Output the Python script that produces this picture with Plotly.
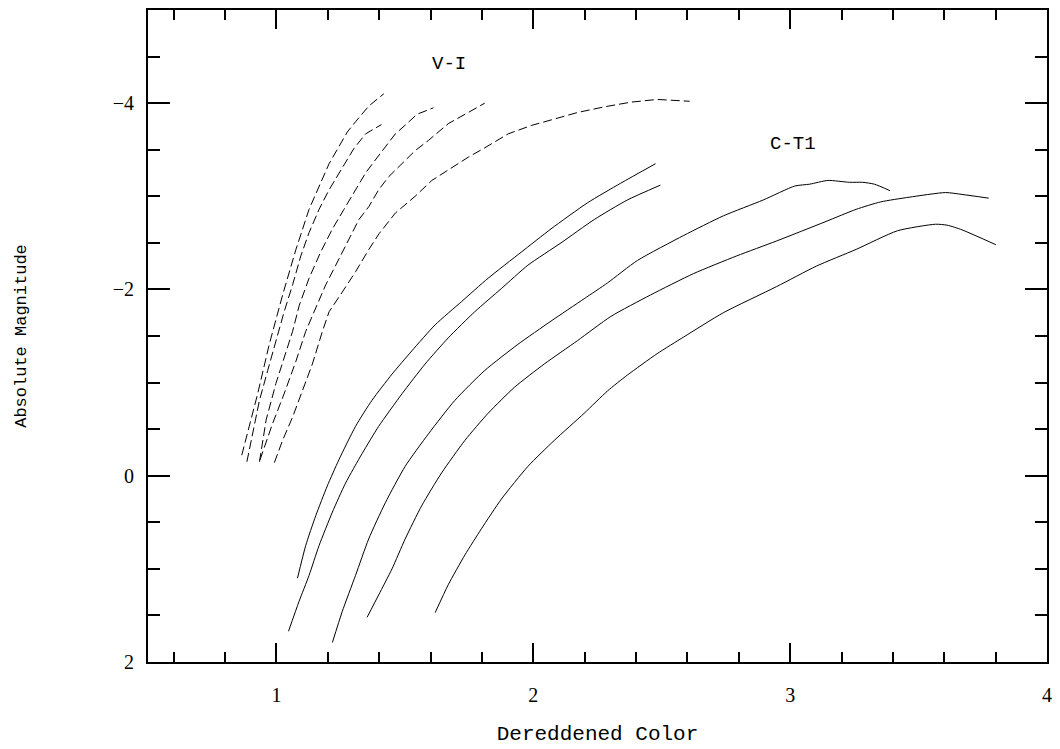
import plotly.graph_objects as go

# ---- V-I isochrones (dashed) ----
vi1_x = [0.865, 0.927, 0.972, 1.024, 1.076, 1.127, 1.205, 1.276, 1.308, 1.360, 1.418]
vi1_y = [-0.22, -0.88, -1.41, -1.94, -2.43, -2.86, -3.35, -3.69, -3.80, -3.97, -4.10]

vi2_x = [0.885, 0.934, 0.966, 0.998, 1.030, 1.063, 1.095, 1.127, 1.166, 1.205, 1.243, 1.301, 1.347, 1.372, 1.409]
vi2_y = [-0.15, -0.81, -1.13, -1.44, -1.76, -2.05, -2.36, -2.61, -2.86, -3.07, -3.25, -3.51, -3.67, -3.71, -3.77]

vi3_x = [0.934, 0.960, 0.998, 1.030, 1.063, 1.089, 1.127, 1.172, 1.218, 1.263, 1.308, 1.347, 1.385, 1.424, 1.463, 1.508, 1.547, 1.611]
vi3_y = [-0.15, -0.60, -0.99, -1.27, -1.55, -1.83, -2.12, -2.40, -2.65, -2.86, -3.07, -3.25, -3.39, -3.53, -3.67, -3.78, -3.88, -3.95]

vi4_x = [0.936, 0.985, 1.030, 1.076, 1.114, 1.153, 1.192, 1.231, 1.269, 1.321, 1.360, 1.398, 1.437, 1.489, 1.540, 1.592, 1.669, 1.747, 1.811]
vi4_y = [-0.17, -0.56, -0.88, -1.23, -1.55, -1.80, -2.05, -2.26, -2.47, -2.75, -2.89, -3.07, -3.21, -3.35, -3.49, -3.60, -3.78, -3.90, -4.00]

vi5_x = [0.992, 1.024, 1.063, 1.101, 1.140, 1.179, 1.205, 1.256, 1.308, 1.360, 1.400, 1.463, 1.540, 1.605, 1.682,
         1.747, 1.811, 1.902, 1.992, 2.069, 2.173, 2.276, 2.379, 2.482, 2.534, 2.609]
vi5_y = [-0.14, -0.38, -0.63, -0.91, -1.20, -1.55, -1.76, -1.97, -2.19, -2.43, -2.60, -2.82, -3.00, -3.17, -3.31,
         -3.42, -3.52, -3.67, -3.76, -3.82, -3.90, -3.96, -4.01, -4.04, -4.035, -4.02]

# ---- C-T1 isochrones (solid) ----
ct1_x = [1.082, 1.114, 1.153, 1.198, 1.243, 1.308, 1.372, 1.450, 1.527, 1.618, 1.721, 1.824, 1.953, 2.069, 2.211, 2.340, 2.476]
ct1_y = [1.10, 0.75, 0.43, 0.11, -0.17, -0.53, -0.81, -1.09, -1.34, -1.62, -1.87, -2.12, -2.40, -2.65, -2.93, -3.14, -3.35]

ct2_x = [1.047, 1.088, 1.127, 1.166, 1.218, 1.269, 1.334, 1.398, 1.489, 1.579, 1.669, 1.772, 1.876, 1.979, 2.108, 2.237, 2.366, 2.495]
ct2_y = [1.67, 1.35, 1.07, 0.75, 0.39, 0.08, -0.24, -0.53, -0.88, -1.20, -1.48, -1.76, -2.01, -2.26, -2.50, -2.75, -2.96, -3.12]

ct3_x = [1.218, 1.256, 1.308, 1.359, 1.424, 1.501, 1.592, 1.695, 1.811, 1.940, 2.069, 2.198, 2.289, 2.405, 2.586, 2.740,
         2.895, 3.018, 3.076, 3.147, 3.231, 3.282, 3.328, 3.389]
ct3_y = [1.79, 1.46, 1.07, 0.68, 0.29, -0.10, -0.45, -0.81, -1.13, -1.41, -1.66, -1.90, -2.07, -2.31, -2.58, -2.79,
         -2.96, -3.11, -3.13, -3.17, -3.15, -3.15, -3.13, -3.06]

ct4_x = [1.353, 1.398, 1.450, 1.501, 1.566, 1.643, 1.734, 1.824, 1.927, 2.043, 2.172, 2.302, 2.456, 2.624, 2.792, 2.947,
         3.140, 3.257, 3.353, 3.463, 3.605, 3.669, 3.773]
ct4_y = [1.52, 1.28, 1.00, 0.68, 0.32, -0.03, -0.38, -0.67, -0.95, -1.20, -1.45, -1.71, -1.94, -2.17, -2.36, -2.52,
         -2.73, -2.86, -2.94, -2.99, -3.04, -3.02, -2.98]

ct5_x = [1.618, 1.669, 1.734, 1.798, 1.876, 1.979, 2.082, 2.198, 2.289, 2.366, 2.482, 2.586, 2.740, 2.947, 3.102, 3.257,
         3.418, 3.566, 3.611, 3.669, 3.801]
ct5_y = [1.47, 1.17, 0.85, 0.57, 0.25, -0.10, -0.38, -0.67, -0.91, -1.08, -1.31, -1.49, -1.75, -2.03, -2.25, -2.43,
         -2.63, -2.70, -2.69, -2.64, -2.48]

labels = ["V-I", "C-T1"]
label_x = [1.67, 3.01]
label_y = [-4.42, -3.56]

fig = go.Figure()

for xs, ys in [(vi1_x, vi1_y), (vi2_x, vi2_y), (vi3_x, vi3_y), (vi4_x, vi4_y), (vi5_x, vi5_y)]:
    fig.add_trace(go.Scatter(x=xs, y=ys, mode="lines",
                             line=dict(color="black", width=1, dash="9px,4px"),
                             hoverinfo="skip", showlegend=False))

for xs, ys in [(ct1_x, ct1_y), (ct2_x, ct2_y), (ct3_x, ct3_y), (ct4_x, ct4_y), (ct5_x, ct5_y)]:
    fig.add_trace(go.Scatter(x=xs, y=ys, mode="lines",
                             line=dict(color="black", width=1, shape="spline", smoothing=0.6),
                             hoverinfo="skip", showlegend=False))

for t, lx, ly in zip(labels, label_x, label_y):
    fig.add_annotation(x=lx, y=ly, text=t, showarrow=False,
                       font=dict(family="Liberation Mono", size=19, color="black"))

fig.update_xaxes(range=[0.5, 4.0], tick0=0, dtick=1, ticks="inside", ticklen=19, tickwidth=2,
                 tickcolor="black", showline=True, linewidth=2, linecolor="black", mirror="allticks",
                 showgrid=False, zeroline=False, ticklabelstandoff=14,
                 tickfont=dict(family="Liberation Serif", size=20, color="black"),
                 minor=dict(dtick=0.2, tick0=0, ticks="inside", ticklen=10, tickwidth=2, tickcolor="black", showgrid=False),
                 title=dict(text="Dereddened Color", standoff=20,
                            font=dict(family="Liberation Mono", size=21, color="black")))

fig.update_yaxes(range=[2, -5], tick0=0, dtick=2, ticks="inside", ticklen=22, tickwidth=2,
                 tickcolor="black", showline=True, linewidth=2, linecolor="black", mirror="allticks",
                 showgrid=False, zeroline=False, ticklabelstandoff=8,
                 tickfont=dict(family="Liberation Serif", size=20, color="black"),
                 minor=dict(dtick=0.5, tick0=0, ticks="inside", ticklen=12, tickwidth=2, tickcolor="black", showgrid=False),
                 title=dict(text="Absolute Magnitude", standoff=82,
                            font=dict(family="Liberation Mono", size=17, color="black")))

fig.update_layout(width=1060, height=749, margin=dict(l=148, r=8, t=8, b=81),
                  paper_bgcolor="white", plot_bgcolor="white", showlegend=False)

fig.write_html("out.html")
